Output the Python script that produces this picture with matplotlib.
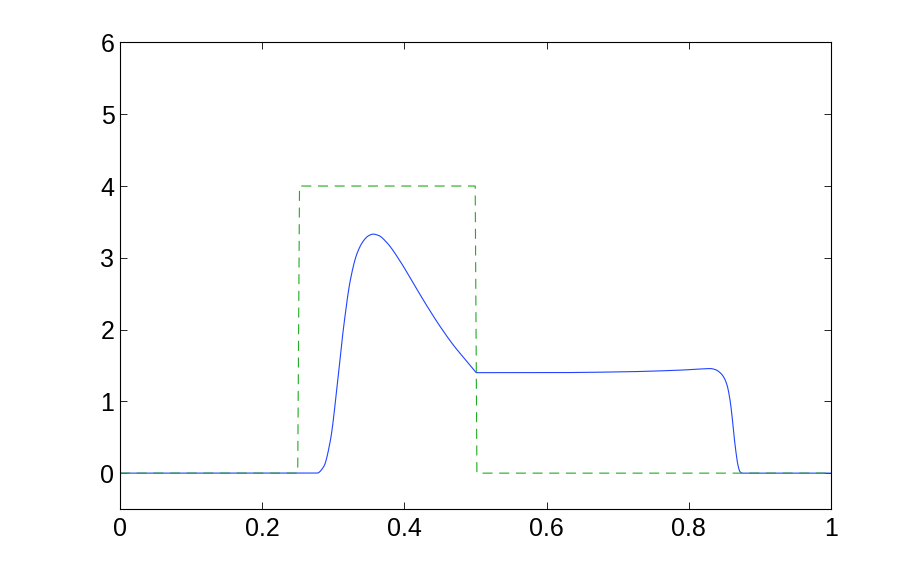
import matplotlib
matplotlib.use('Agg')
import matplotlib.pyplot as plt
import numpy as np

# blue curve (two pieces that meet in a corner at x=0.501)
x_pulse = [0.265, 0.277, 0.2865, 0.296, 0.3053, 0.3146, 0.324, 0.3334, 0.3427, 0.3500,
           0.3559, 0.3640, 0.3755, 0.3942, 0.4129, 0.4317, 0.4505, 0.4692, 0.488, 0.501]
y_pulse = [0.0, 0.0, 0.09, 0.46, 1.20, 2.04, 2.69, 3.06, 3.24, 3.31,
           3.33, 3.31, 3.21, 2.95, 2.64, 2.33, 2.04, 1.78, 1.555, 1.40]
x_plateau = [0.501, 0.60, 0.70, 0.788, 0.815, 0.830, 0.838, 0.844, 0.849, 0.854, 0.858,
             0.861, 0.863, 0.866, 0.869, 0.872, 0.875, 0.885]
y_plateau = [1.40, 1.40, 1.41, 1.435, 1.45, 1.457, 1.44, 1.40, 1.34, 1.22, 1.02,
             0.78, 0.58, 0.32, 0.12, 0.02, 0.0, 0.0]

# green dashed step
x_ref = [0.0, 0.25, 0.2525, 0.4996, 0.502, 1.0]
y_ref = [0.0, 0.0, 4.0, 4.0, 0.0, 0.0]

xticks = [0, 0.2, 0.4, 0.6, 0.8, 1]
xticklabels = ['0', '0.2', '0.4', '0.6', '0.8', '1']
yticks = [0, 1, 2, 3, 4, 5, 6]


def pchip(xk, yk, xs):
    # monotone cubic (Fritsch-Carlson) through the read points
    xk = np.asarray(xk, float)
    yk = np.asarray(yk, float)
    h = np.diff(xk)
    d = np.diff(yk) / h
    m = np.zeros_like(yk)
    for i in range(1, len(xk) - 1):
        if d[i - 1] * d[i] > 0:
            w1 = 2 * h[i] + h[i - 1]
            w2 = h[i] + 2 * h[i - 1]
            m[i] = (w1 + w2) / (w1 / d[i - 1] + w2 / d[i])
    m[0] = d[0]
    m[-1] = d[-1]
    idx = np.clip(np.searchsorted(xk, xs) - 1, 0, len(h) - 1)
    t = (xs - xk[idx]) / h[idx]
    h00 = 2 * t**3 - 3 * t**2 + 1
    h10 = t**3 - 2 * t**2 + t
    h01 = -2 * t**3 + 3 * t**2
    h11 = t**3 - t**2
    return (h00 * yk[idx] + h10 * h[idx] * m[idx]
            + h01 * yk[idx + 1] + h11 * h[idx] * m[idx + 1])


xa = np.linspace(x_pulse[0], x_pulse[-1], 800)
xb = np.linspace(x_plateau[0], x_plateau[-1], 800)
xs = np.concatenate([[0.0], xa, xb, [1.0]])
ys = np.concatenate([[0.0], pchip(x_pulse, y_pulse, xa),
                     pchip(x_plateau, y_plateau, xb), [0.0]])

plt.rcParams['font.family'] = ['Liberation Sans', 'DejaVu Sans']

fig = plt.figure(figsize=(9.18, 5.74), dpi=100)
ax = fig.add_axes([0.1307, 0.1132, 0.7745, 0.8128])

ax.plot(xs, ys, color='#2244ff', linewidth=0.8)
ax.plot(x_ref, y_ref, color='#22aa22', linewidth=0.8, dashes=(9, 6))

ax.set_xlim(0, 1)
ax.set_ylim(-0.5, 6)
ax.set_xticks(xticks)
ax.set_xticklabels(xticklabels)
ax.set_yticks(yticks)
ax.tick_params(direction='in', length=5, width=0.6, top=True, right=True,
               labelsize=18, pad=6)
ax.tick_params(axis='y', pad=4)
for s in ax.spines.values():
    s.set_linewidth(0.8)

plt.savefig('out.png', dpi=100)
